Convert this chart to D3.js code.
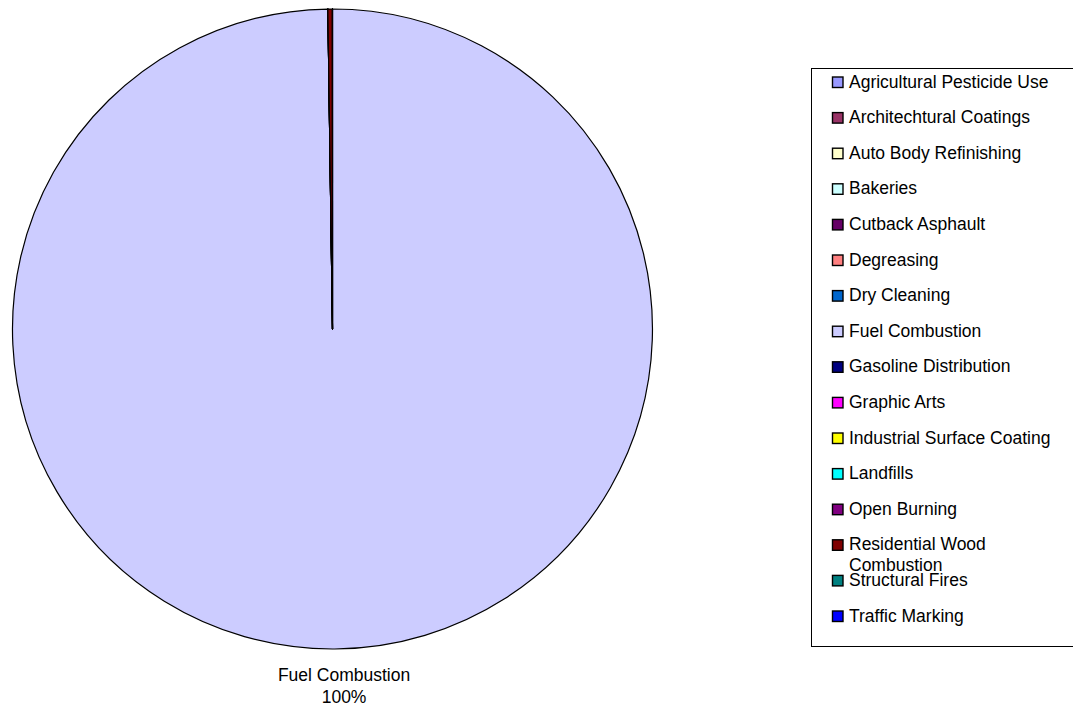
<!DOCTYPE html>
<html>
<head>
<meta charset="utf-8">
<script src="https://cdn.jsdelivr.net/npm/d3@7"></script>
<style>
  body { margin: 0; background: #fff; }
  svg { display: block; font-family: "Liberation Sans", Arial, sans-serif; }
</style>
</head>
<body>
<svg id="chart" width="1073" height="706"></svg>
<script>
"use strict";

// emission source categories (legend / slice order)
const categories = [
	"Agricultural Pesticide Use",
	"Architechtural Coatings",
	"Auto Body Refinishing",
	"Bakeries",
	"Cutback Asphault",
	"Degreasing",
	"Dry Cleaning",
	"Fuel Combustion",
	"Gasoline Distribution",
	"Graphic Arts",
	"Industrial Surface Coating",
	"Landfills",
	"Open Burning",
	"Residential Wood Combustion",
	"Structural Fires",
	"Traffic Marking",
];

// emissions (tons/yr)
const values = [0, 0, 0, 0, 0, 0, 0, 1520.0, 0, 0, 0, 0, 0, 3.4, 0.1, 0];

// excel default palette
const colors = [
	"#9999ff", "#993366", "#ffffcc", "#ccffff",
	"#660066", "#ff8080", "#0066cc", "#ccccff",
	"#000080", "#ff00ff", "#ffff00", "#00ffff",
	"#800080", "#800000", "#008080", "#0000ff",
];

// only this slice carries a data label
const labelled = ["Fuel Combustion"];

const svg = d3.select("#chart");
const cx = 332.5, cy = 329, radius = 320;
const fontSize = 17.5;

const color = d3.scaleOrdinal().domain(categories).range(colors);
const data = categories.map((c, i) => ({ name: c, value: values[i] }));
const total = d3.sum(values);

const pie = d3.pie().sort(null).value((d) => d.value);
const arc = d3.arc().innerRadius(0).outerRadius(radius);
const arcs = pie(data);

const g = svg.append("g").attr("transform", `translate(${cx},${cy})`);

g.selectAll("path.slice")
	.data(arcs)
	.join("path")
	.attr("class", "slice")
	.attr("d", arc)
	.attr("fill", (d) => color(d.data.name))
	.attr("stroke", "#000")
	.attr("stroke-width", 1.2)
	.attr("stroke-linejoin", "round");

// data labels outside the pie
const labelArc = d3.arc().innerRadius(radius + 32).outerRadius(radius + 32);
const pct = d3.format(".0%");
const lab = g.selectAll("text.lbl")
	.data(arcs.filter((d) => labelled.includes(d.data.name)))
	.join("text")
	.attr("class", "lbl")
	.attr("text-anchor", "middle")
	.attr("font-size", fontSize)
	.attr("fill", "#000")
	.attr("transform", (d) => {
		const [x, y] = labelArc.centroid(d);
		return `translate(${x + 9},${y})`;
	});
lab.append("tspan").attr("x", 0).attr("y", 0).text((d) => d.data.name);
lab.append("tspan").attr("x", 0).attr("y", 22).text((d) => pct(d.data.value / total));

// legend
const legend = svg.append("g");
legend.append("rect")
	.attr("x", 811.5)
	.attr("y", 68.5)
	.attr("width", 300)
	.attr("height", 578)
	.attr("fill", "#fff")
	.attr("stroke", "#000")
	.attr("stroke-width", 1);

const rowY = d3.scalePoint().domain(categories).range([87.5, 621.5]);

const row = legend.selectAll("g.row")
	.data(categories)
	.join("g")
	.attr("class", "row")
	.attr("transform", (d) => `translate(832,${rowY(d)})`);

row.append("rect")
	.attr("x", 0.5)
	.attr("y", -10.5)
	.attr("width", 10.5)
	.attr("height", 10.5)
	.attr("fill", (d) => color(d))
	.attr("stroke", "#000")
	.attr("stroke-width", 1.4);

row.append("text")
	.attr("x", 17)
	.attr("y", 0)
	.attr("font-size", fontSize)
	.attr("fill", "#000")
	.each(function (d) {
		const t = d3.select(this);
		if (d === "Residential Wood Combustion") {
			t.append("tspan").attr("x", 17).attr("y", 0).text("Residential Wood");
			t.append("tspan").attr("x", 17).attr("y", 21).text("Combustion");
		} else {
			t.text(d);
		}
	});
</script>
</body>
</html>
